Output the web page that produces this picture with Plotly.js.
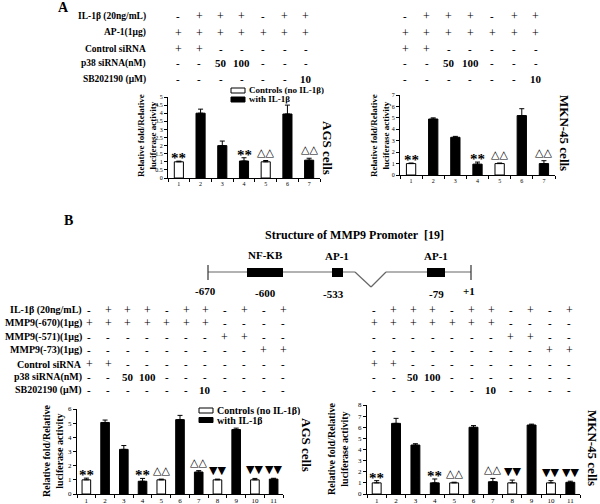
<!DOCTYPE html>
<html>
<head>
<meta charset="utf-8">
<script src="https://cdn.plot.ly/plotly-3.0.1.min.js"></script>
<style>html,body{margin:0;padding:0;background:#fff;}#chart{width:600px;height:504px;}</style>
</head>
<body>
<div id="chart"></div>
<script>
// ---------------- DATA ----------------
// Panel A treatment table
const aRowLabels = ['IL-1β (20ng/mL)', 'AP-1(1μg)', 'Control siRNA', 'p38 siRNA(nM)', 'SB202190 (μM)'];
const aIL1b   = ['-', '+', '+', '+', '-', '+', '+'];
const aAP1    = ['+', '+', '+', '+', '+', '+', '+'];
const aCtrlSi = ['+', '+', '-', '-', '-', '-', '-'];
const aP38    = ['-', '-', '50', '100', '-', '-', '-'];
const aSB     = ['-', '-', '-', '-', '-', '-', '10'];
const aTickLabels = ['1', '2', '3', '4', '5', '6', '7'];
// Panel A values
const agsA     = [1.0, 4.0, 2.0, 1.05, 1.0, 3.95, 1.1];
const agsAErr  = [0.04, 0.25, 0.28, 0.2, 0.08, 0.55, 0.12];
const mknA     = [1.0, 4.9, 3.3, 0.95, 1.0, 5.2, 1.0];
const mknAErr  = [0.05, 0.1, 0.08, 0.18, 0.05, 0.6, 0.25];
const aMarks   = ['**', '', '', '**', '△△', '', '△△'];

// Panel B treatment table
const bRowLabels = ['IL-1β (20ng/mL)', 'MMP9(-670)(1μg)', 'MMP9(-571)(1μg)', 'MMP9(-73)(1μg)', 'Control siRNA', 'p38 siRNA(nM)', 'SB202190 (μM)'];
const bIL1b   = ['-', '+', '+', '+', '-', '+', '+', '-', '+', '-', '+'];
const bM670   = ['+', '+', '+', '+', '+', '+', '+', '-', '-', '-', '-'];
const bM571   = ['-', '-', '-', '-', '-', '-', '-', '+', '+', '-', '-'];
const bM73    = ['-', '-', '-', '-', '-', '-', '-', '-', '-', '+', '+'];
const bCtrlSi = ['+', '+', '-', '-', '-', '-', '-', '-', '-', '-', '-'];
const bP38    = ['-', '-', '50', '100', '-', '-', '-', '-', '-', '-', '-'];
const bSB     = ['-', '-', '-', '-', '-', '-', '10', '-', '-', '-', '-'];
const bTickLabels = ['1', '2', '3', '4', '5', '6', '7', '8', '9', '10', '11'];
// Panel B values
const agsB    = [1.0, 5.05, 3.15, 0.9, 1.0, 5.25, 1.55, 1.0, 4.55, 1.0, 1.05];
const agsBErr = [0.12, 0.17, 0.27, 0.2, 0.05, 0.3, 0.1, 0.05, 0.1, 0.1, 0.06];
const mknB    = [1.0, 6.35, 4.4, 1.0, 1.0, 6.0, 1.1, 1.0, 6.2, 1.0, 1.05];
const mknBErr = [0.2, 0.45, 0.12, 0.35, 0.06, 0.15, 0.3, 0.25, 0.08, 0.2, 0.1];
const bMarks  = ['**', '', '', '**', '△△', '', '△△', '▼▼', '', '▼▼', '▼▼'];

// Legend / text labels
const legendNames = ['Controls (no IL-1β)', 'with IL-1β'];
const yTitle = 'Relative fold/Relative<br>luciferase activity';
const promoterTitle = 'Structure of MMP9 Promoter  [19]';
const promoterSites = ['NF-KB', 'AP-1', 'AP-1'];
const promoterPositions = ['-670', '-600', '-533', '-79', '+1'];

// ---------------- HELPERS ----------------
const SERIF = '"Liberation Serif", "Times New Roman", serif';
const SYM = '"DejaVu Sans", sans-serif';
const X = px => px / 600;
const Y = py => 1 - py / 504;

const traces = [];
const annotations = [];
const shapes = [];

function addPanel(vals, errs, ilRow, axN, width) {
  const cats = vals.map((_, i) => i + 1);
  const xa = axN === 1 ? 'x' : 'x' + axN;
  const ya = axN === 1 ? 'y' : 'y' + axN;
  const isCtrl = ilRow.map(s => s === '-');
  const zeros = vals.map(() => 0);
  traces.push({
    type: 'bar', x: cats, y: vals.map((v, i) => isCtrl[i] ? v : null),
    xaxis: xa, yaxis: ya, width: width, name: legendNames[0], showlegend: false,
    marker: {color: '#ffffff', line: {color: '#000', width: 1}},
    error_y: {type: 'data', symmetric: false, array: errs.map((e, i) => isCtrl[i] ? e : 0), arrayminus: zeros,
              color: '#000', thickness: 1, width: 2.5}
  });
  traces.push({
    type: 'bar', x: cats, y: vals.map((v, i) => !isCtrl[i] ? v : null),
    xaxis: xa, yaxis: ya, width: width, name: legendNames[1], showlegend: false,
    marker: {color: '#000000', line: {color: '#000', width: 1}},
    error_y: {type: 'data', symmetric: false, array: errs.map((e, i) => !isCtrl[i] ? e : 0), arrayminus: zeros,
              color: '#000', thickness: 1, width: 2.5}
  });
}

function addMarks(vals, errs, marks, axN, sizes) {
  const xa = axN === 1 ? 'x' : 'x' + axN;
  const ya = axN === 1 ? 'y' : 'y' + axN;
  marks.forEach((m, i) => {
    if (!m) return;
    const star = m === '**';
    annotations.push({
      xref: xa, yref: ya, x: i + 1, y: vals[i] + errs[i], yanchor: 'bottom', xanchor: 'center',
      text: m, showarrow: false,
      yshift: star ? -7 : 0,
      font: star ? {family: SERIF, size: sizes.star, color: '#000', weight: 'bold'}
                 : {family: SYM, size: sizes.sym, color: '#000'}
    });
  });
}

function cellText(s) {
  return s === '+' ? s : '<b>' + s + '</b>';
}

function addRowLabels(labels, rowY, labelRight, labelSize) {
  labels.forEach((lab, r) => {
    annotations.push({xref: 'paper', yref: 'paper', x: X(labelRight), y: Y(rowY[r]), xanchor: 'right', yanchor: 'middle',
      text: '<b>' + lab + '</b>', showarrow: false, font: {family: SERIF, size: labelSize, color: '#000'}});
  });
}

function addCells(rows, rowY, colX0, colDx, symSize) {
  rows.forEach((row, r) => row.forEach((s, c) => {
    annotations.push({xref: 'paper', yref: 'paper', x: X(colX0 + c * colDx), y: Y(rowY[r]), xanchor: 'center', yanchor: 'middle',
      text: cellText(s), showarrow: false, font: {family: SERIF, size: s === '+' ? symSize + 1 : symSize, color: '#000'}});
  }));
}

function addLegend(x0, yTop, gap, size) {
  shapes.push({type: 'rect', xref: 'paper', yref: 'paper', x0: X(x0), x1: X(x0 + 14), y0: Y(yTop), y1: Y(yTop + 5),
               line: {color: '#000', width: 1}, fillcolor: '#fff'});
  shapes.push({type: 'rect', xref: 'paper', yref: 'paper', x0: X(x0), x1: X(x0 + 14), y0: Y(yTop + gap), y1: Y(yTop + gap + 5),
               line: {color: '#000', width: 1}, fillcolor: '#000'});
  legendNames.forEach((n, k) => {
    annotations.push({xref: 'paper', yref: 'paper', x: X(x0 + 17), y: Y(yTop + 2.5 + k * gap), xanchor: 'left', yanchor: 'middle',
      text: '<b>' + n + '</b>', showarrow: false, height: gap - 0.5, borderpad: 0,
      font: {family: SERIF, size: size, color: '#000'}});
  });
}

function textAt(px, py, txt, size, opts) {
  annotations.push(Object.assign({xref: 'paper', yref: 'paper', x: X(px), y: Y(py), xanchor: 'center', yanchor: 'middle',
    text: txt, showarrow: false, font: {family: SERIF, size: size, color: '#000'}}, opts || {}));
}

// ---------------- PANELS ----------------
addPanel(agsA, agsAErr, aIL1b, 1, 0.42);
addPanel(mknA, mknAErr, aIL1b, 2, 0.42);
addPanel(agsB, agsBErr, bIL1b, 3, 0.46);
addPanel(mknB, mknBErr, bIL1b, 4, 0.46);

addMarks(agsA, agsAErr, aMarks, 1, {star: 15, sym: 11});
addMarks(mknA, mknAErr, aMarks, 2, {star: 15, sym: 11});
addMarks(agsB, agsBErr, bMarks, 3, {star: 15, sym: 11});
addMarks(mknB, mknBErr, bMarks, 4, {star: 15, sym: 11});

// Tables
const aRows = [aIL1b, aAP1, aCtrlSi, aP38, aSB];
const aRowY = [16, 33, 49, 63, 79];
addRowLabels(aRowLabels, aRowY, 148, 9.5);
addCells(aRows, aRowY, 178, 21.3, 11);
addCells(aRows, aRowY, 405, 21.8, 11);
const bRows = [bIL1b, bM670, bM571, bM73, bCtrlSi, bP38, bSB];
const bRowY = [310, 323, 337, 350, 364, 377, 390];
addRowLabels(bRowLabels, bRowY, 84, 10);
addCells(bRows, bRowY, 89, 19.4, 11);
addCells(bRows, bRowY, 374, 19.5, 11);

// Legends
addLegend(231, 88, 9, 9);
addLegend(199, 408, 9.5, 10);

// Y titles
textAt(147, 136, '<b>' + yTitle + '</b>', 9, {textangle: -90});
textAt(380, 136, '<b>' + yTitle + '</b>', 9, {textangle: -90});
textAt(53, 451, '<b>' + yTitle + '</b>', 10, {textangle: -90});
textAt(338, 449, '<b>' + yTitle + '</b>', 10, {textangle: -90});

// Cell labels
textAt(328, 148, '<b>AGS cells</b>', 13, {textangle: 90});
textAt(564, 133, '<b>MKN-45 cells</b>', 13, {textangle: 90});
textAt(307, 445, '<b>AGS cells</b>', 13, {textangle: 90});
textAt(593, 448, '<b>MKN-45 cells</b>', 13, {textangle: 90});

// Panel letters
textAt(63, 8, '<b>A</b>', 14);
textAt(68, 220, '<b>B</b>', 14);

// Promoter diagram
textAt(354, 235, '<b>' + promoterTitle + '</b>', 12);
const lineC = '#666';
const yL = 272;
const seg = (x0, y0, x1, y1, c, w) => shapes.push({type: 'line', xref: 'paper', yref: 'paper', x0: X(x0), y0: Y(y0), x1: X(x1), y1: Y(y1), line: {color: c, width: w}});
seg(208, yL, 355, yL, lineC, 1.2);
seg(355, yL, 371, 287, lineC, 1.2);
seg(371, 287, 386, yL, lineC, 1.2);
seg(386, yL, 471, yL, lineC, 1.2);
seg(208, 265, 208, 280, '#333', 1.2);
seg(471, 265, 471, 280, '#333', 1.2);
[[247, 283], [332, 343], [427, 445]].forEach(b => shapes.push({type: 'rect', xref: 'paper', yref: 'paper',
  x0: X(b[0]), x1: X(b[1]), y0: Y(268), y1: Y(277), fillcolor: '#000', line: {color: '#000', width: 0}}));
textAt(265, 255, '<b>' + promoterSites[0] + '</b>', 11);
textAt(337, 256, '<b>' + promoterSites[1] + '</b>', 11);
textAt(436, 256, '<b>' + promoterSites[2] + '</b>', 11);
textAt(205, 291, '<b>' + promoterPositions[0] + '</b>', 11);
textAt(265, 293, '<b>' + promoterPositions[1] + '</b>', 11);
textAt(333, 294, '<b>' + promoterPositions[2] + '</b>', 11);
textAt(436, 294, '<b>' + promoterPositions[3] + '</b>', 11);
textAt(469, 291, '<b>' + promoterPositions[4] + '</b>', 11);

// ---------------- AXES ----------------
function xAxis(d0, d1, labels, anchor, fs) {
  return {domain: [X(d0), X(d1)], range: [0.5, labels.length + 0.5], anchor: anchor,
    tickmode: 'array', tickvals: labels.map((_, i) => i + 1), ticktext: labels, ticks: '',
    showline: true, linecolor: '#000', linewidth: 1, showgrid: false, zeroline: false,
    tickfont: {family: SERIF, size: fs, color: '#000'},
    minor: {ticks: 'outside', ticklen: 3, tickwidth: 1, tickcolor: '#000', tick0: 0.5, dtick: 1, showgrid: false},
    fixedrange: true};
}
function yAxis(t, b, max, dtick, anchor, fs) {
  return {domain: [Y(b), Y(t)], range: [0, max], anchor: anchor, dtick: dtick, tick0: 0,
    ticks: 'outside', ticklen: 3, tickwidth: 1, tickcolor: '#000',
    showline: true, linecolor: '#000', linewidth: 1, showgrid: false, zeroline: false,
    tickfont: {family: SERIF, size: fs, color: '#000'}, fixedrange: true};
}

const layout = {
  width: 600, height: 504,
  margin: {l: 0, r: 0, t: 0, b: 0},
  paper_bgcolor: '#fff', plot_bgcolor: 'rgba(0,0,0,0)',
  barmode: 'overlay', showlegend: false,
  xaxis:  xAxis(168, 320, aTickLabels, 'y', 6),
  yaxis:  yAxis(97, 178, 5, 0.5, 'x', 6),
  xaxis2: xAxis(400, 555, aTickLabels, 'y2', 6),
  yaxis2: yAxis(95, 175, 7, 1, 'x2', 6),
  xaxis3: xAxis(77, 283, bTickLabels, 'y3', 7),
  yaxis3: yAxis(409, 494, 6, 1, 'x3', 7),
  xaxis4: xAxis(367, 580, bTickLabels, 'y4', 7),
  yaxis4: yAxis(405, 494, 8, 1, 'x4', 7),
  annotations: annotations,
  shapes: shapes
};

Plotly.newPlot('chart', traces, layout, {displayModeBar: false, staticPlot: true});
</script>
</body>
</html>
